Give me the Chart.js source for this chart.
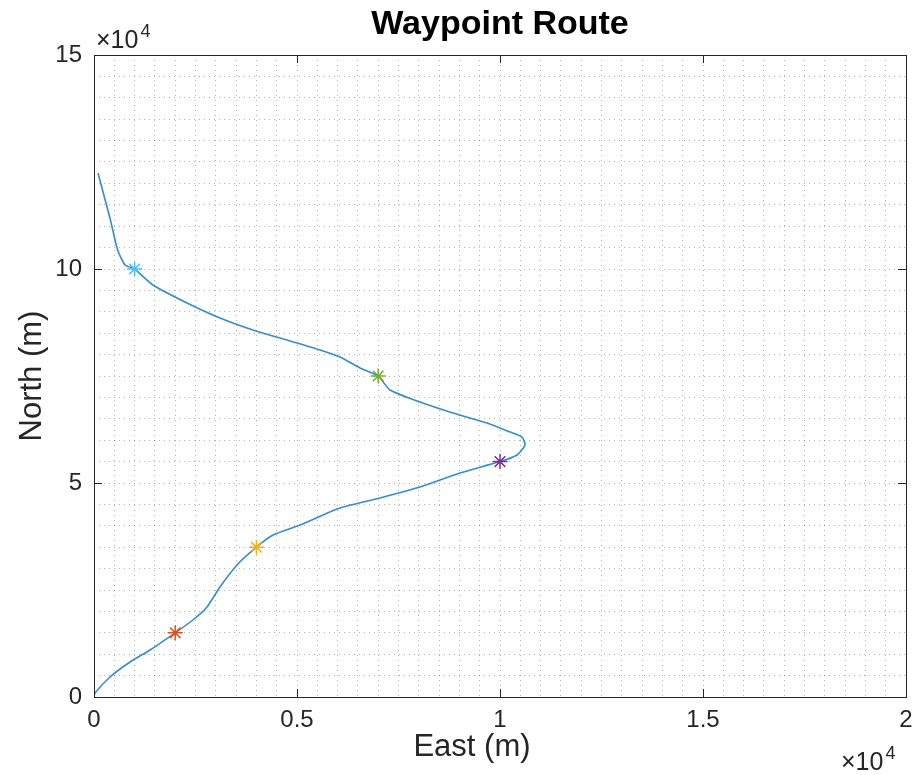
<!DOCTYPE html>
<html>
<head>
<meta charset="utf-8">
<script src="https://cdn.jsdelivr.net/npm/chart.js@4.4.1/dist/chart.umd.min.js"></script>
<style>
  html, body { margin: 0; padding: 0; background: #fff; }
  #wrap { width: 916px; height: 775px; }
</style>
</head>
<body>
<div id="wrap"><canvas id="myChart" width="916" height="775"></canvas></div>
<script>
// route trace (metres)
const routeEast = [0, 25, 394, 887, 1379, 2000, 2438, 2783, 3103, 3522, 4000, 4409, 5074, 6059, 7044, 8030, 9015, 10000,
  10419, 10616, 10542, 10246, 9680, 8842, 8030, 7291, 7000, 6552, 6059, 5567, 4754, 3916, 3103, 2291, 1453, 1000,
  764, 580, 405, 255, 99];
const routeNorth = [0, 935, 4673, 8178, 10981, 15000, 17991, 21028, 25701, 30841, 35000, 37850, 40187, 44159, 46495, 49065, 52336, 55000,
  56542, 58879, 60748, 61916, 64019, 66355, 68925, 71729, 75000, 76869, 79439, 81075, 83411, 85748, 88551, 92056, 96262, 100000,
  100935, 104500, 111449, 116822, 122430];

// waypoints
const wpEast = [2000, 4000, 10000, 7000, 1000];
const wpNorth = [15000, 35000, 55000, 75000, 100000];
const wpColors = ['#D95319', '#EDB120', '#7E2F8E', '#77AC30', '#4DBEEE'];

const xTickLabels = ['0', '0.5', '1', '1.5', '2'];
const yTickLabels = ['0', '5', '10', '15'];

const axisColor = '#262626';
const fontName = '"Liberation Sans", Arial, Helvetica, sans-serif';

const routePts = routeEast.map((e, i) => ({ x: e, y: routeNorth[i] }));
const wpPts = wpEast.map((e, i) => ({ x: e, y: wpNorth[i] }));

function drawExponent(ctx, x, y) {
  ctx.font = '25px ' + fontName;
  ctx.fillText('\u00d710', x, y);
  const w = ctx.measureText('\u00d710').width;
  ctx.font = '18px ' + fontName;
  ctx.fillText('4', x + w + 2, y - 11);
}

// box, inward ticks, title, axis labels and exponents
const matlabAxes = {
  id: 'matlabAxes',
  afterDraw(chart) {
    const ctx = chart.ctx;
    const a = chart.chartArea;
    const xs = chart.scales.x, ys = chart.scales.y;
    ctx.save();
    ctx.strokeStyle = axisColor;
    ctx.lineWidth = 1;
    ctx.strokeRect(Math.round(a.left) + 0.5, Math.round(a.top) + 0.5,
      Math.round(a.right - a.left), Math.round(a.bottom - a.top));
    ctx.beginPath();
    xTickLabels.forEach((t, i) => {
      const px = Math.round(xs.getPixelForValue(i * 5000)) + 0.5;
      ctx.moveTo(px, a.bottom); ctx.lineTo(px, a.bottom - 8);
      ctx.moveTo(px, a.top); ctx.lineTo(px, a.top + 8);
    });
    yTickLabels.forEach((t, i) => {
      const py = Math.round(ys.getPixelForValue(i * 50000)) + 0.5;
      ctx.moveTo(a.left, py); ctx.lineTo(a.left + 8, py);
      ctx.moveTo(a.right, py); ctx.lineTo(a.right - 8, py);
    });
    ctx.stroke();

    ctx.fillStyle = '#000';
    ctx.font = 'bold 34px ' + fontName;
    ctx.textAlign = 'center';
    ctx.textBaseline = 'alphabetic';
    ctx.fillText('Waypoint Route', (a.left + a.right) / 2, 34);

    ctx.fillStyle = axisColor;
    ctx.textBaseline = 'middle';
    ctx.font = '31px ' + fontName;
    ctx.fillText('East (m)', 472, 747);
    ctx.save();
    ctx.translate(32, (a.top + a.bottom) / 2);
    ctx.rotate(-Math.PI / 2);
    ctx.fillText('North (m)', 0, 0);
    ctx.restore();

    // exponent labels
    ctx.textAlign = 'left';
    ctx.textBaseline = 'alphabetic';
    drawExponent(ctx, 96, 48);
    drawExponent(ctx, 841, 770);
    ctx.restore();
  }
};

const gridOpts = {
  color: 'rgba(38,38,38,0.35)',
  lineWidth: 1,
  drawTicks: false
};

new Chart(document.getElementById('myChart'), {
  type: 'scatter',
  data: {
    datasets: [
      {
        label: 'Waypoints',
        data: wpPts,
        pointStyle: 'star',
        pointRadius: 7.5,
        pointBorderWidth: 1.5,
        pointBorderColor: wpColors,
        pointBackgroundColor: wpColors,
        showLine: false
      },
      {
        label: 'Route',
        data: routePts,
        showLine: true,
        borderColor: 'rgba(0,114,189,0.8)',
        borderWidth: 1.6,
        pointRadius: 0,
        tension: 0.2
      }
    ]
  },
  options: {
    responsive: false,
    animation: false,
    layout: { padding: { top: 55, right: 10, left: 0, bottom: 0 } },
    plugins: {
      legend: { display: false },
      title: { display: false },
      tooltip: { enabled: false }
    },
    scales: {
      x: {
        type: 'linear',
        min: 0, max: 20000,
        grid: Object.assign({}, gridOpts),
        border: { display: false, dash: [1, 4] },
        ticks: {
          stepSize: 500,
          autoSkip: false,
          maxRotation: 0,
          padding: 9,
          color: axisColor,
          font: { family: fontName, size: 24 },
          callback: (v) => (v % 5000 === 0 ? xTickLabels[v / 5000] : '')
        },
        afterFit: (s) => { s.height = 78; s.paddingLeft = 0; s.paddingRight = 0; }
      },
      y: {
        type: 'linear',
        min: 0, max: 150000,
        grid: Object.assign({}, gridOpts),
        border: { display: false, dash: [1, 4] },
        ticks: {
          stepSize: 5000,
          autoSkip: false,
          padding: 12,
          color: axisColor,
          font: { family: fontName, size: 24 },
          callback: (v) => (v % 50000 === 0 ? yTickLabels[v / 50000] : '')
        },
        afterFit: (s) => { s.width = 94; s.paddingTop = 0; s.paddingBottom = 0; }
      }
    }
  },
  plugins: [matlabAxes]
});
</script>
</body>
</html>
